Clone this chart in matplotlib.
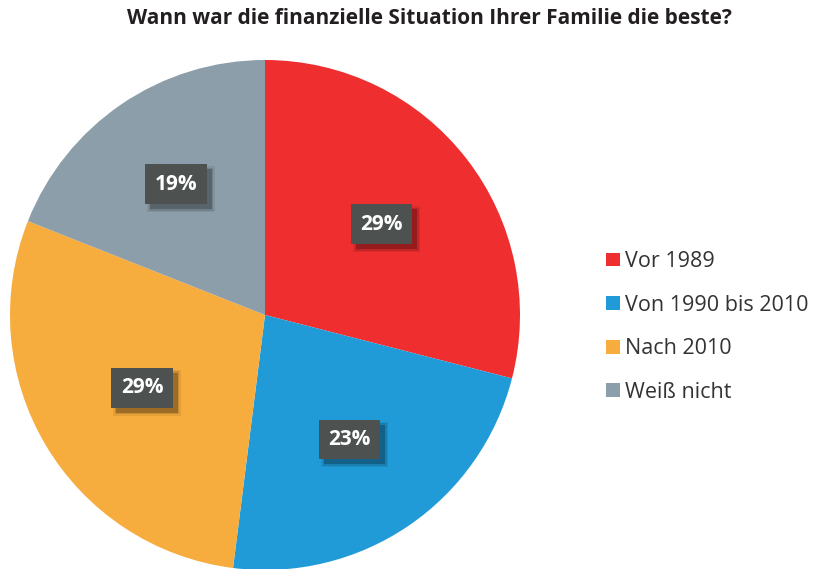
import matplotlib
matplotlib.use("Agg")
import matplotlib.pyplot as plt
from matplotlib.patches import Rectangle
import numpy as np

plt.rcParams['font.family'] = ['Open Sans', 'DejaVu Sans']

# data
labels = ['Vor 1989', 'Von 1990 bis 2010', 'Nach 2010', 'Weiß nicht']
values = [29, 23, 29, 19]
colors = ['#EE2E2F', '#219BD8', '#F7AC3E', '#8C9EA9']

W, H = 817, 569
fig = plt.figure(figsize=(W / 100, H / 100), dpi=100)

# pie axes: center (265, 315), radius 255 px
ax = fig.add_axes([10 / W, (H - 570) / H, 510 / W, 510 / H])
wedges, _ = ax.pie(values, colors=colors, startangle=90, counterclock=False,
                   radius=1, wedgeprops=dict(linewidth=0))
ax.set_xlim(-1, 1)
ax.set_ylim(-1, 1)
ax.set_aspect('equal')
ax.axis('off')

dist = [0.58, 0.59, 0.56, 0.62]
total = sum(values)
start = 90.0
boxes = []
for v, d in zip(values, dist):
    span = v / total * 360
    mid = np.radians(start - span / 2)
    start -= span
    x, y = d * np.cos(mid), d * np.sin(mid)
    t = ax.text(x, y, f'{v}%', ha='center', va='center', fontsize=15, fontweight='bold',
                color='white', zorder=5,
                bbox=dict(boxstyle='square,pad=0.45', fc='#4D5150', ec='none'))
    boxes.append(t)

# soft drop shadow behind each label box
fig.canvas.draw()
inv = ax.transData.inverted()
for t in boxes:
    bb = t.get_bbox_patch().get_window_extent()
    for grow, a in [(0, 0.22), (1.5, 0.12), (3, 0.07)]:
        (x0, y0), (x1, y1) = inv.transform([(bb.x0 + 5 - grow, bb.y0 - 5 - grow),
                                            (bb.x1 + 5 + grow, bb.y1 - 5 + grow)])
        ax.add_patch(Rectangle((x0, y0), x1 - x0, y1 - y0, fc='black', ec='none',
                               alpha=a, zorder=4, clip_on=False))

fig.text(429 / W, 1 - 19 / H, 'Wann war die finanzielle Situation Ihrer Familie die beste?',
         ha='center', va='center', fontsize=15, fontweight='bold', color='#231F20')

fig.legend(wedges, labels, loc='center left', bbox_to_anchor=(587 / W, 1 - 327 / H),
           frameon=False, fontsize=15.5, handlelength=0.62, handleheight=0.62,
           handletextpad=0.25, labelspacing=1.05, labelcolor='#333333')

fig.savefig('out.png', dpi=100)
